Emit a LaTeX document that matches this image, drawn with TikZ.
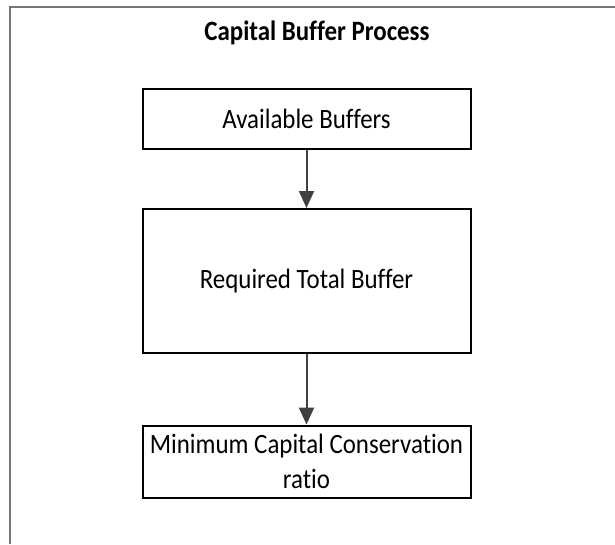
\documentclass[tikz,border=0pt]{standalone}
\usepackage{fontspec}
\setmainfont{Carlito}[Ligatures=NoCommon,FakeStretch=0.89]
\usetikzlibrary{arrows.meta,positioning}
\definecolor{framegray}{HTML}{767676}
\definecolor{arrowgray}{HTML}{404040}

\begin{document}
\begin{tikzpicture}[
  x=1pt,y=-1pt,
  font=\fontsize{28}{35}\selectfont,
  flow/.style={-{Triangle[length=17pt,width=15pt]},line width=2pt,draw=arrowgray,fill=arrowgray},
  box/.style={draw=black,line width=2pt,fill=white,
    align=center,minimum width=328pt,inner sep=2pt},
  frame/.style={draw=framegray,line width=2pt}
]
\useasboundingbox (0,0) rectangle (615,544);
\draw[frame] (10,544) -- (10,7) -- (615,7);
\node[font=\fontsize{28}{34}\selectfont\bfseries] (title) at (317,33) {Capital Buffer Process};
\node[box,minimum height=60pt] (avail) at (306.5,119) {Available Buffers};
\node[box,minimum height=144pt] (reqtotal) at (306.5,281) {Required Total Buffer};
\node[box,minimum height=72pt] (mincons) at (306.5,461.5)
  {Minimum Capital Conservation\\ratio};

\draw[flow] (avail) -- (reqtotal);
\draw[flow] (reqtotal) -- (mincons);
\end{tikzpicture}
\end{document}
